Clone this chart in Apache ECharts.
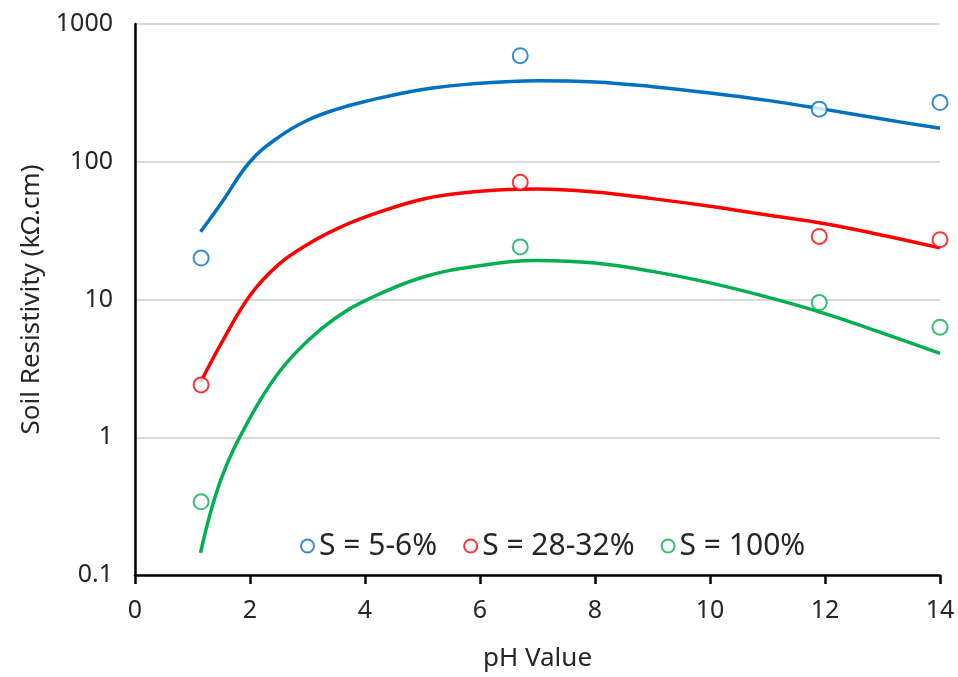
<!DOCTYPE html>
<html>
<head>
<meta charset="utf-8">
<title>Soil Resistivity vs pH</title>
<script src="https://cdn.jsdelivr.net/npm/echarts@6/dist/echarts.min.js"></script>
<style>
  html, body { margin: 0; padding: 0; background: #fff; }
  #chart { width: 958px; height: 677px; }
</style>
</head>
<body>
<div id="chart"></div>
<script>
// measured points (pH, resistivity)
var phPoints = [1.15, 6.7, 11.9, 14];
var s5Points = [20, 589, 241, 269];
var s28Points = [2.4, 71, 28.7, 27.2];
var s100Points = [0.34, 24.1, 9.5, 6.3];

// fitted trend lines
var fitPh = [1.14, 1.5, 2, 2.5, 3, 3.5, 4, 5, 6, 7, 8, 9, 10, 11, 12, 13, 14];
var s5Fit = [31, 50, 100, 151, 200, 240, 274, 335, 372, 388, 380, 351, 316, 279, 240, 204, 175];
var s28Fit = [2.5, 4.8, 10.7, 18, 25.1, 32.4, 39.6, 53.5, 61, 63.4, 60.3, 54, 47.5, 41, 35.5, 29.3, 23.7];
var s100Fit = [0.145, 0.5, 1.38, 2.95, 5.0, 7.4, 9.8, 14.5, 17.6, 19.2, 18.4, 16, 13.2, 10.4, 7.9, 5.7, 4.06];

var xTicks = [0, 14, 2];
var yRange = [0.1, 1000];

var seriesNames = ['S = 5-6%', 'S = 28-32%', 'S = 100%'];
var colors = ['#0070C0', '#FF0000', '#00B050'];

function pairs(xs, ys) {
    var out = [];
    for (var i = 0; i < xs.length; i++) out.push([xs[i], ys[i]]);
    return out;
}

var font = 'Noto Sans';
var pointSets = [s5Points, s28Points, s100Points];
var fitSets = [s5Fit, s28Fit, s100Fit];

var series = [];
// lines first so the circles sit on top
for (var k = 0; k < 3; k++) {
    series.push({
        name: 'fit' + k,
        type: 'line',
        smooth: 0.4,
        showSymbol: false,
        symbol: 'none',
        data: pairs(fitPh, fitSets[k]),
        lineStyle: { color: colors[k], width: 3.5 },
        z: 2,
        silent: true
    });
}
for (var k = 0; k < 3; k++) {
    series.push({
        name: seriesNames[k],
        type: 'scatter',
        symbol: 'circle',
        symbolSize: 15,
        data: pairs(phPoints, pointSets[k]),
        itemStyle: { color: '#fff', borderColor: colors[k], borderWidth: 2 },
        z: 5
    });
}

var myChart = echarts.init(document.getElementById('chart'));

var option = {
    backgroundColor: '#fff',
    animation: false,
    grid: { left: 135, right: 18, top: 24, bottom: 101 },
    legend: {
        data: seriesNames.map(function (n, i) {
            return { name: n, icon: 'circle', itemStyle: { color: '#fff', borderColor: colors[i], borderWidth: 2 } };
        }),
        left: 295,
        top: 526,
        itemWidth: 13,
        itemHeight: 13,
        itemGap: 26,
        textStyle: { fontFamily: font, fontSize: 30, color: '#262626' }
    },
    xAxis: {
        type: 'value',
        min: xTicks[0],
        max: xTicks[1],
        interval: xTicks[2],
        name: 'pH Value',
        nameLocation: 'middle',
        nameGap: 71,
        nameTextStyle: { fontFamily: font, fontSize: 26, color: '#262626' },
        axisLine: { lineStyle: { color: '#000', width: 2.5 } },
        axisTick: { show: true, inside: false, length: 9, lineStyle: { color: '#000', width: 2.5 } },
        axisLabel: { fontFamily: font, fontSize: 25, color: '#262626', margin: 23 },
        splitLine: { show: false }
    },
    yAxis: {
        type: 'log',
        logBase: 10,
        min: yRange[0],
        max: yRange[1],
        name: 'Soil Resistivity (kΩ.cm)',
        nameLocation: 'middle',
        nameGap: 90,
        nameTextStyle: { fontFamily: font, fontSize: 26, color: '#262626' },
        axisLine: { show: true, lineStyle: { color: '#000', width: 2.5 } },
        axisTick: { show: false },
        axisLabel: {
            fontFamily: font, fontSize: 25, color: '#262626', margin: 22,
            formatter: function (v) { return v < 1 ? v.toFixed(1) : String(Math.round(v)); }
        },
        minorTick: { show: false },
        splitLine: { show: true, lineStyle: { color: '#d9d9d9', width: 2 } }
    },
    series: series
};

myChart.setOption(option);

window.addEventListener('resize', function () {
    myChart.resize();
});
</script>
</body>
</html>
